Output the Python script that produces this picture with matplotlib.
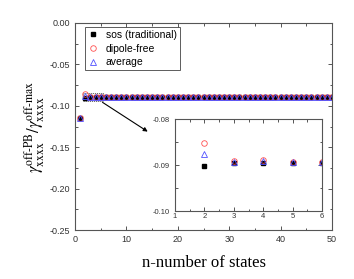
import numpy as np
import matplotlib.pyplot as plt
from matplotlib.patches import Rectangle
from matplotlib.ticker import MultipleLocator

# n = 1..50
n = np.arange(1, 51)
first = {"sos": [-0.1145, -0.0903, -0.0895, -0.0895, -0.0895, -0.0895],
         "dipole": [-0.1145, -0.0852, -0.0891, -0.0889, -0.0893, -0.0893],
         "avg": [-0.1145, -0.0876, -0.0893, -0.0891, -0.0894, -0.0894]}
sos = np.array(first["sos"] + [-0.0895] * 44)
dipole = np.array(first["dipole"] + [-0.0893] * 44)
avg = np.array(first["avg"] + [-0.0894] * 44)
labels = ["sos (traditional)", "dipole-free", "average"]

plt.rcParams['font.family'] = ['Liberation Sans', 'DejaVu Sans']
plt.rcParams['mathtext.fontset'] = 'stix'

fig = plt.figure(figsize=(3.54, 2.79), dpi=100)
ax = fig.add_axes([75/354, 1 - 230/279, 257/354, 207/279])

def style(a, size):
    for s in a.spines.values():
        s.set_color('#555555')
        s.set_linewidth(0.8)
    a.tick_params(which='both', direction='in', top=True, right=True,
                  labelsize=size, colors='#555555', labelcolor='#333333', width=0.7)
    a.tick_params(which='major', length=3)
    a.tick_params(which='minor', length=1.8)

ax.plot(n, sos, 's', color='black', ms=3, label=labels[0])
ax.plot(n, dipole, 'o', mfc='none', mec='#ff5050', ms=4, mew=0.6, label=labels[1])
ax.plot(n, avg, '^', mfc='none', mec='#5050ff', ms=4, mew=0.6, label=labels[2])
ax.set_xlim(0, 50)
ax.set_ylim(-0.25, 0.0)
ax.xaxis.set_major_locator(MultipleLocator(10))
ax.xaxis.set_minor_locator(MultipleLocator(5))
ax.yaxis.set_major_locator(MultipleLocator(0.05))
ax.yaxis.set_minor_locator(MultipleLocator(0.025))
ax.yaxis.set_major_formatter(plt.FuncFormatter(lambda v, p: f"{v:.2f}"))
style(ax, 6.5)

leg = ax.legend(loc='upper left', fontsize=7.5, frameon=True, fancybox=False,
                edgecolor='#333333', handletextpad=0.7, borderpad=0.3,
                labelspacing=0.35, handlelength=1.0, borderaxespad=0,
                bbox_to_anchor=(0.039, 0.981))
leg.get_frame().set_linewidth(0.7)

ax.set_xlabel("n-number of states", family='Liberation Serif', fontsize=12, labelpad=8)
ax.set_ylabel(r"$\gamma_{\rm xxxx}^{\rm off\text{-}PB}/\gamma_{\rm xxxx}^{\rm off\text{-}max}$",
              fontsize=12, labelpad=2)

ax.add_patch(Rectangle((1.5, -0.094), 4.0, 0.0095, fill=False, ls=(0, (1.5, 1)),
                       lw=0.6, ec='#555555'))
ax.annotate("", xy=(14.6, -0.133), xytext=(4.9, -0.094),
            arrowprops=dict(arrowstyle='-|>', color='black', lw=0.8, mutation_scale=6))

ins = fig.add_axes([175/354, 1 - 211/279, 147/354, 92/279])
ins.plot(n, sos, 's', color='black', ms=3)
ins.plot(n, dipole, 'o', mfc='none', mec='#ff5050', ms=4, mew=0.6)
ins.plot(n, avg, '^', mfc='none', mec='#5050ff', ms=4, mew=0.6)
ins.set_xlim(1, 6)
ins.set_ylim(-0.10, -0.08)
ins.xaxis.set_major_locator(MultipleLocator(1))
ins.xaxis.set_minor_locator(MultipleLocator(0.5))
ins.yaxis.set_major_locator(MultipleLocator(0.01))
ins.yaxis.set_minor_locator(MultipleLocator(0.005))
ins.yaxis.set_major_formatter(plt.FuncFormatter(lambda v, p: f"{v:.2f}"))
style(ins, 5.5)
ins.tick_params(axis='x', pad=1.5)

fig.savefig("out.png", dpi=100)
